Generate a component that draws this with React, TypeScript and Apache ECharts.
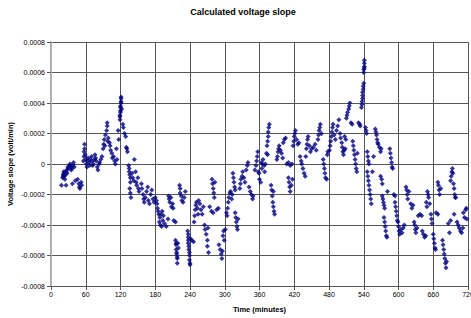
import React, { useEffect, useRef } from "react";
import * as echarts from "echarts";

const chartTitle = "Calculated voltage slope";
const xAxisTitle = "Time (minutes)";
const yAxisTitle = "Voltage slope (volt/min)";
const xTicks = [0, 60, 120, 180, 240, 300, 360, 420, 480, 540, 600, 660, 720];

// [time (minutes), slope (volt/min)]
const slope0to120: number[][] = [
  [18, -1.4e-4], [20, -0.9e-4], [21, -0.8e-4], [21, -0.7e-4], [22, -0.6e-4], [22, -0.5e-4], [23, -0.8e-4],
  [24, -1.0e-4], [25, -0.7e-4], [26, -0.5e-4], [27, -0.4e-4], [28, -0.6e-4], [26, -1.4e-4], [29, -0.2e-4],
  [30, -0.3e-4], [32, -0.1e-4], [33, 0.0e-4], [34, -0.2e-4], [35, -0.4e-4], [36, -0.3e-4], [38, -0.1e-4],
  [39, 0.1e-4], [40, -0.2e-4], [37, -1.3e-4], [42, -1.1e-4], [46, -1.0e-4], [48, -1.3e-4], [49, -1.5e-4],
  [50, -1.6e-4], [52, -1.2e-4], [53, -1.4e-4], [56, 0.2e-4], [57, 0.5e-4], [57, 0.8e-4], [58, 1.0e-4],
  [58, 1.3e-4], [59, 0.6e-4], [60, 0.3e-4], [61, 0.0e-4], [62, -0.2e-4], [63, 0.2e-4], [64, 0.4e-4],
  [66, 0.1e-4], [67, -0.1e-4], [68, 0.3e-4], [70, 0.5e-4], [71, 0.2e-4], [72, -0.1e-4], [73, 0.0e-4],
  [75, 0.3e-4], [76, 0.6e-4], [77, 0.4e-4], [78, 0.2e-4], [80, -0.2e-4], [81, -0.4e-4], [83, 0.0e-4],
  [84, 0.1e-4], [86, 0.3e-4], [88, 0.5e-4], [90, 1.0e-4], [91, 1.3e-4], [92, 1.6e-4], [93, 1.2e-4],
  [94, 1.9e-4], [96, 2.2e-4], [97, 2.5e-4], [97, 2.7e-4], [98, 1.5e-4], [99, 1.7e-4], [101, 1.4e-4],
  [102, 1.2e-4], [103, 0.9e-4], [105, 0.7e-4], [106, 0.4e-4], [108, 0.5e-4], [110, 0.2e-4], [111, 0.0e-4],
  [113, 1.0e-4], [114, 0.3e-4], [116, 2.2e-4], [117, 1.6e-4], [119, 2.9e-4], [119, 3.1e-4], [119, 3.2e-4],
  [120, 3.4e-4], [120, 3.5e-4], [120, 3.7e-4], [120, 3.8e-4], [121, 4.0e-4], [121, 4.1e-4], [121, 4.3e-4],
  [121, 4.4e-4], [122, 3.6e-4],
];

const slope120to240: number[][] = [
  [124, 2.6e-4], [125, 2.4e-4], [127, 2.0e-4], [129, 1.8e-4], [130, 1.1e-4], [131, 1.0e-4], [132, 0.8e-4],
  [134, -0.1e-4], [135, -0.3e-4], [135, -0.5e-4], [136, -0.7e-4], [137, -0.9e-4], [137, -1.2e-4],
  [136, -1.6e-4], [137, -1.9e-4], [138, -2.2e-4], [140, -0.6e-4], [141, -0.9e-4], [143, -1.1e-4],
  [144, 0.3e-4], [146, -0.5e-4], [147, -1.2e-4], [148, -1.4e-4], [150, -0.9e-4], [151, -1.6e-4],
  [152, -1.8e-4], [156, -1.3e-4], [157, -1.6e-4], [159, -2.0e-4], [160, -2.3e-4], [161, -2.5e-4],
  [163, -2.2e-4], [165, -1.8e-4], [167, -1.5e-4], [168, -2.4e-4], [170, -2.6e-4], [172, -2.0e-4],
  [174, -1.7e-4], [176, -2.3e-4], [178, -2.5e-4], [180, -2.2e-4], [182, -2.4e-4], [183, -2.6e-4],
  [184, -2.9e-4], [185, -3.1e-4], [186, -3.3e-4], [188, -3.5e-4], [190, -3.3e-4], [192, -3.1e-4],
  [194, -3.4e-4], [187, -3.8e-4], [189, -4.0e-4], [191, -4.1e-4], [193, -3.7e-4], [196, -3.9e-4],
  [199, -4.1e-4], [202, -3.6e-4], [203, -2.1e-4], [204, -2.3e-4], [205, -2.5e-4], [207, -2.2e-4],
  [208, -2.8e-4], [210, -2.6e-4], [211, -2.9e-4], [212, -3.7e-4], [215, -3.8e-4], [215, -5.0e-4],
  [216, -5.2e-4], [216, -5.3e-4], [216, -5.6e-4], [217, -5.8e-4], [217, -5.9e-4], [218, -6.1e-4],
  [218, -6.2e-4], [218, -6.5e-4], [219, -5.2e-4], [220, -5.5e-4], [222, -1.4e-4], [223, -1.6e-4],
  [223, -1.9e-4], [225, -2.1e-4], [226, -2.4e-4], [228, -2.5e-4], [230, -2.2e-4], [232, -1.8e-4],
  [236, -4.4e-4], [237, -4.6e-4], [237, -4.8e-4], [237, -5.0e-4], [237, -5.2e-4], [238, -5.4e-4],
  [238, -5.6e-4], [239, -5.8e-4], [239, -6.0e-4], [239, -6.3e-4], [240, -6.5e-4], [240, -6.6e-4],
  [241, -4.9e-4],
];

const slope240to360: number[][] = [
  [243, -5.0e-4], [246, -5.1e-4], [247, -3.8e-4], [248, -3.4e-4], [249, -3.0e-4], [250, -2.7e-4],
  [251, -2.5e-4], [253, -2.9e-4], [254, -3.3e-4], [255, -2.4e-4], [257, -2.6e-4], [259, -3.0e-4],
  [261, -3.3e-4], [263, -2.8e-4], [265, -4.0e-4], [266, -4.3e-4], [268, -4.6e-4], [270, -5.0e-4],
  [271, -4.2e-4], [270, -5.4e-4], [272, -5.8e-4], [274, -2.8e-4], [277, -3.1e-4], [280, -3.2e-4],
  [278, -1.0e-4], [279, -1.3e-4], [280, -1.6e-4], [281, -1.9e-4], [282, -2.2e-4], [283, -1.2e-4],
  [286, -3.0e-4], [289, -2.9e-4], [290, -5.3e-4], [292, -5.6e-4], [294, -5.9e-4], [295, -6.2e-4],
  [296, -5.7e-4], [297, -4.7e-4], [298, -4.4e-4], [299, -5.0e-4], [301, -4.3e-4], [303, -3.2e-4],
  [304, -3.4e-4], [305, -2.9e-4], [306, -2.5e-4], [307, -2.2e-4], [309, -1.9e-4], [310, -1.8e-4],
  [312, -2.3e-4], [313, -2.0e-4], [314, -0.6e-4], [315, -0.9e-4], [316, -1.2e-4], [317, -1.5e-4],
  [318, -1.7e-4], [318, -3.2e-4], [319, -3.5e-4], [320, -3.8e-4], [321, -4.1e-4], [322, -4.3e-4],
  [323, -3.6e-4], [326, -1.6e-4], [327, -1.3e-4], [328, -1.0e-4], [330, -0.8e-4], [331, -0.5e-4],
  [333, -0.9e-4], [335, -1.2e-4], [337, -0.4e-4], [339, -0.1e-4], [340, 0.1e-4], [342, -1.5e-4],
  [344, -1.8e-4], [346, -2.0e-4], [348, -2.3e-4], [349, -2.1e-4], [352, -0.4e-4], [354, -0.1e-4],
  [355, 0.2e-4], [356, 0.5e-4], [357, 0.8e-4], [358, -0.5e-4], [359, -0.6e-4], [360, -1.0e-4],
];

const slope360to480: number[][] = [
  [362, -1.2e-4], [363, 0.1e-4], [364, -0.3e-4], [365, 0.0e-4], [366, 0.3e-4], [368, -0.1e-4],
  [369, -0.5e-4], [370, 0.0e-4], [372, 0.7e-4], [374, 0.6e-4], [373, 1.2e-4], [374, 1.5e-4],
  [375, 1.8e-4], [375, 2.1e-4], [376, 2.4e-4], [377, 2.6e-4], [380, -1.4e-4], [381, -1.7e-4],
  [382, -2.1e-4], [383, -2.5e-4], [384, -2.8e-4], [385, -3.1e-4], [386, -3.3e-4], [384, -1.8e-4],
  [390, 0.3e-4], [391, 0.5e-4], [392, 0.8e-4], [393, 1.0e-4], [394, 1.2e-4], [396, 0.9e-4],
  [398, 0.7e-4], [400, 0.4e-4], [401, 1.4e-4], [403, 1.6e-4], [405, 1.7e-4], [407, 0.0e-4],
  [410, 0.1e-4], [413, -0.1e-4], [416, 0.0e-4], [410, -0.9e-4], [411, -1.2e-4], [412, -1.5e-4],
  [413, -1.8e-4], [415, -1.4e-4], [417, -1.0e-4], [418, 1.2e-4], [419, 1.5e-4], [420, 1.8e-4],
  [421, 2.0e-4], [422, 2.2e-4], [424, 1.6e-4], [426, 1.3e-4], [428, 1.4e-4], [430, 0.5e-4],
  [432, 0.2e-4], [433, 0.0e-4], [435, -0.3e-4], [437, -0.6e-4], [439, -0.8e-4], [440, 0.5e-4],
  [441, 1.0e-4], [442, 1.3e-4], [443, 1.6e-4], [444, 1.8e-4], [446, 1.2e-4], [448, 0.8e-4],
  [450, 1.0e-4], [453, 1.1e-4], [456, 1.3e-4], [458, 0.9e-4], [461, 1.6e-4], [462, 1.9e-4],
  [463, 2.2e-4], [464, 2.4e-4], [465, 2.6e-4], [467, 2.0e-4], [470, 0.3e-4], [471, 0.0e-4],
  [472, -0.3e-4], [473, -0.6e-4], [474, -0.9e-4], [476, -1.0e-4], [477, 0.6e-4], [478, 0.8e-4],
];

const slope480to600: number[][] = [
  [481, 0.9e-4], [482, 1.2e-4], [483, 1.5e-4], [484, 1.8e-4], [485, 2.1e-4], [486, 2.4e-4],
  [487, 2.6e-4], [489, 1.9e-4], [491, 1.6e-4], [493, 2.2e-4], [495, 2.5e-4], [497, 2.9e-4],
  [499, 2.0e-4], [500, 1.7e-4], [502, 1.4e-4], [503, 1.1e-4], [504, 0.8e-4], [505, 0.6e-4],
  [507, 1.8e-4], [509, 1.6e-4], [506, 0.9e-4], [508, 1.0e-4], [510, 3.0e-4], [511, 3.2e-4],
  [512, 3.4e-4], [514, 3.6e-4], [515, 3.8e-4], [516, 4.0e-4], [518, 2.7e-4], [520, 2.6e-4],
  [521, 1.5e-4], [522, 1.2e-4], [523, 0.9e-4], [524, 0.6e-4], [525, 0.3e-4], [526, 0.0e-4],
  [527, -0.3e-4], [528, -0.5e-4], [529, 0.7e-4], [531, 2.7e-4], [533, 2.6e-4], [534, 2.5e-4],
  [536, 3.7e-4], [537, 3.9e-4], [537, 4.1e-4], [538, 4.3e-4], [538, 4.5e-4], [538, 4.7e-4],
  [539, 4.9e-4], [539, 5.1e-4], [540, 5.3e-4], [540, 6.0e-4], [540, 6.2e-4], [541, 6.3e-4],
  [541, 6.4e-4], [541, 6.6e-4], [541, 6.8e-4], [543, 2.4e-4], [544, 2.2e-4], [545, 2.0e-4],
  [546, 0.8e-4], [547, 0.5e-4], [548, 0.2e-4], [549, 0.0e-4], [546, -0.5e-4], [547, -0.8e-4],
  [548, -1.1e-4], [549, -1.4e-4], [550, -1.7e-4], [551, -2.0e-4], [552, -2.3e-4], [553, -2.6e-4],
  [555, -0.5e-4], [557, 0.5e-4], [560, 2.3e-4], [561, 2.1e-4], [562, 1.9e-4], [563, 1.6e-4],
  [564, 1.4e-4], [565, 1.3e-4], [567, 1.1e-4], [569, 0.8e-4], [570, 1.0e-4], [569, -0.8e-4],
  [571, -1.0e-4], [572, -1.3e-4], [572, -2.1e-4], [573, -2.3e-4], [574, -2.5e-4], [575, -2.7e-4],
  [576, -2.9e-4], [575, -3.5e-4], [576, -3.8e-4], [577, -4.1e-4], [578, -4.4e-4], [579, -4.7e-4],
  [580, -4.8e-4], [581, -1.8e-4], [585, 1.0e-4], [586, 0.7e-4], [587, 0.4e-4], [588, 0.1e-4],
  [589, -0.2e-4], [590, -0.3e-4], [592, -2.0e-4], [594, -2.1e-4], [594, -2.5e-4], [595, -2.8e-4],
  [596, -3.1e-4], [597, -3.4e-4], [598, -3.7e-4], [599, -3.8e-4],
];

const slope600to720: number[][] = [
  [600, -4.1e-4], [601, -4.4e-4], [602, -4.6e-4], [604, -4.3e-4], [606, -4.5e-4], [608, -4.2e-4],
  [610, -4.0e-4], [613, -1.5e-4], [614, -1.7e-4], [615, -2.0e-4], [616, -2.3e-4], [618, -1.8e-4],
  [621, -2.6e-4], [623, -2.9e-4], [625, -2.7e-4], [627, -3.8e-4], [628, -4.0e-4], [629, -4.3e-4],
  [630, -4.5e-4], [632, -4.2e-4], [634, -3.4e-4], [637, -3.3e-4], [640, -3.4e-4], [641, -4.4e-4],
  [643, -4.6e-4], [645, -4.8e-4], [647, -4.7e-4], [648, -2.5e-4], [649, -2.8e-4], [650, -1.8e-4],
  [651, -2.0e-4], [652, -2.2e-4], [654, -2.6e-4], [656, -3.3e-4], [657, -3.6e-4], [658, -3.9e-4],
  [660, -4.6e-4], [661, -4.9e-4], [662, -5.2e-4], [663, -5.5e-4], [664, -5.6e-4], [665, -3.2e-4],
  [668, -3.3e-4], [668, -1.2e-4], [669, -1.4e-4], [670, -1.7e-4], [671, -2.0e-4], [673, -1.6e-4],
  [676, -5.0e-4], [677, -5.3e-4], [678, -5.6e-4], [679, -5.9e-4], [680, -6.2e-4], [681, -6.5e-4],
  [682, -6.8e-4], [683, -6.4e-4], [686, -3.9e-4], [688, -4.5e-4], [690, -3.7e-4], [690, -1.1e-4],
  [691, -0.8e-4], [692, -0.5e-4], [693, -0.3e-4], [694, -0.6e-4], [695, -1.3e-4], [696, -1.6e-4],
  [697, -2.0e-4], [698, -2.2e-4], [696, -3.3e-4], [699, -2.2e-4], [701, -3.8e-4], [703, -4.0e-4],
  [705, -4.2e-4], [707, -4.4e-4], [709, -4.5e-4], [711, -4.2e-4], [712, -3.2e-4], [714, -3.5e-4],
  [716, -3.0e-4], [717, -2.9e-4], [718, -3.6e-4],
];

const slopeData = [
  ...slope0to120,
  ...slope120to240,
  ...slope240to360,
  ...slope360to480,
  ...slope480to600,
  ...slope600to720,
];

const FONT = "Liberation Sans, Arial, sans-serif";

export default function App() {
  const ref = useRef<HTMLDivElement>(null);
  useEffect(() => {
    if (!ref.current) return;
    const chart = echarts.init(ref.current, null, { renderer: "svg" });
    chart.setOption({
      animation: false,
      backgroundColor: "#ffffff",
      title: {
        text: chartTitle,
        left: 238,
        top: 2,
        textAlign: "center",
        textStyle: { fontFamily: FONT, fontSize: 9, fontWeight: "bold", color: "#000" },
      },
      grid: { left: 51, right: 3, top: 42, bottom: 32, containLabel: false, outerBoundsMode: "none" },
      xAxis: {
        type: "value",
        min: 0,
        max: 720,
        interval: 60,
        name: xAxisTitle,
        nameLocation: "middle",
        nameGap: 19,
        nameMoveOverlap: false,
        nameTextStyle: { fontFamily: FONT, fontSize: 7.5, fontWeight: "bold", color: "#000" },
        axisLine: { show: true, onZero: false, lineStyle: { color: "#555", width: 1 } },
        axisTick: { show: true, length: 4, inside: false, lineStyle: { color: "#555" } },
        axisLabel: {
          fontFamily: FONT,
          fontSize: 7,
          color: "#000",
          margin: 5,
          hideOverlap: false,
          formatter: (v: number) => (xTicks.includes(v) ? String(v) : ""),
        },
        splitLine: { show: true, lineStyle: { color: "#555", width: 1 } },
      },
      yAxis: {
        type: "value",
        min: -0.0008,
        max: 0.0008,
        interval: 0.0002,
        name: yAxisTitle,
        nameLocation: "middle",
        nameGap: 37,
        nameMoveOverlap: false,
        nameRotate: 90,
        nameTextStyle: { fontFamily: FONT, fontSize: 7.5, fontWeight: "bold", color: "#000" },
        axisLine: { show: true, lineStyle: { color: "#b0b0b0", width: 2 } },
        axisTick: { show: true, length: 4, inside: false, lineStyle: { color: "#555" } },
        axisLabel: {
          fontFamily: FONT,
          fontSize: 7,
          color: "#000",
          margin: 6,
          formatter: (v: number) => (Math.abs(v) < 1e-12 ? "0" : v.toFixed(4)),
        },
        splitLine: { show: true, lineStyle: { color: "#555", width: 1 } },
      },
      series: [
        {
          type: "scatter",
          data: slopeData,
          symbol: "diamond",
          symbolSize: 5,
          itemStyle: { color: "#000080" },
          silent: true,
        },
      ],
    });
    return () => chart.dispose();
  }, []);
  return (
    <div
      ref={ref}
      style={{ position: "fixed", left: 0, top: 0, width: 471, height: 318, background: "#fff" }}
    />
  );
}
